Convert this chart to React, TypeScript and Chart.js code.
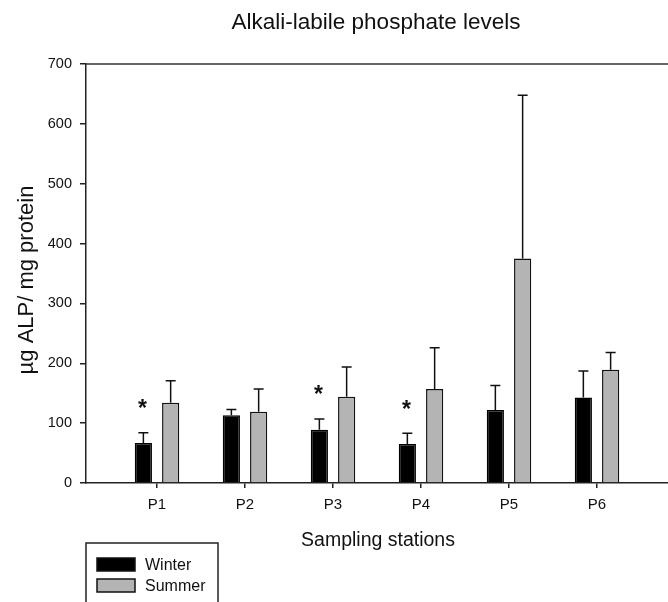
import React, { useEffect, useRef } from "react";
import { Chart, registerables } from "chart.js";

Chart.register(...registerables);

const categories = ["P1", "P2", "P3", "P4", "P5", "P6"];
const winterValues = [67, 113, 89, 65, 122, 143];
const winterErrors = [17, 10, 18, 18, 41, 44];
const summerValues = [134, 119, 144, 157, 375, 189];
const summerErrors = [37, 38, 50, 69, 273, 29];
const winterSignificant = [true, false, true, true, false, false];
const yTicks = [0, 100, 200, 300, 400, 500, 600, 700];

const FONT = "'Liberation Sans', Arial, sans-serif";

const annotationPlugin = {
  id: "customAnnotations",
  afterDatasetsDraw(chart: any) {
    const ctx = chart.ctx;
    const y = chart.scales.y;
    const area = chart.chartArea;
    ctx.save();
    // top frame line
    ctx.strokeStyle = "#333";
    ctx.lineWidth = 1.5;
    ctx.beginPath();
    ctx.moveTo(area.left, area.top);
    ctx.lineTo(area.right, area.top);
    ctx.stroke();

    // error bars (upper only)
    const errs = [winterErrors, summerErrors];
    chart.data.datasets.forEach((ds: any, di: number) => {
      const meta = chart.getDatasetMeta(di);
      meta.data.forEach((bar: any, i: number) => {
        const v = ds.data[i].y;
        const top = y.getPixelForValue(v + errs[di][i]);
        const start = y.getPixelForValue(v);
        ctx.strokeStyle = "#111";
        ctx.lineWidth = 1.5;
        ctx.beginPath();
        ctx.moveTo(bar.x, start);
        ctx.lineTo(bar.x, top);
        ctx.moveTo(bar.x - 5, top);
        ctx.lineTo(bar.x + 5, top);
        ctx.stroke();
        if (di === 0 && winterSignificant[i]) {
          ctx.fillStyle = "#111";
          ctx.font = `bold 23px ${FONT}`;
          ctx.textAlign = "center";
          ctx.textBaseline = "middle";
          ctx.fillText("*", bar.x - 1, top - 23);
        }
      });
    });

    // titles
    ctx.fillStyle = "#111";
    ctx.textAlign = "center";
    ctx.textBaseline = "middle";
    ctx.font = `22.5px ${FONT}`;
    ctx.fillText("Alkali-labile phosphate levels", 376, 23);
    ctx.font = `19.5px ${FONT}`;
    ctx.fillText("Sampling stations", 378, 541);
    ctx.save();
    ctx.translate(27, 280);
    ctx.rotate(-Math.PI / 2);
    ctx.font = `22px ${FONT}`;
    ctx.fillText("\u00b5g ALP/ mg protein", 0, 0);
    ctx.restore();

    // legend
    ctx.strokeStyle = "#222";
    ctx.lineWidth = 1.5;
    ctx.strokeRect(86, 543, 132, 70);
    chart.data.datasets.forEach((ds: any, di: number) => {
      const sy = 558 + di * 21;
      ctx.fillStyle = ds.backgroundColor;
      ctx.fillRect(97, sy, 38, 13);
      ctx.strokeStyle = "#111";
      ctx.lineWidth = 1.5;
      ctx.strokeRect(97, sy, 38, 13);
      ctx.fillStyle = "#111";
      ctx.textAlign = "left";
      ctx.font = `16px ${FONT}`;
      ctx.fillText(ds.label, 145, sy + 7.5);
    });
    ctx.restore();
  },
};

export default function App() {
  const canvasRef = useRef<HTMLCanvasElement | null>(null);

  useEffect(() => {
    const canvas = canvasRef.current;
    if (!canvas) return;
    const chart = new Chart(canvas, {
      type: "bar",
      data: {
        datasets: [
          {
            label: "Winter",
            data: winterValues.map((v, i) => ({ x: i, y: v })),
            backgroundColor: "#000000",
            borderColor: "#000000",
            borderWidth: 1.5,
            categoryPercentage: 0.62,
            barPercentage: 0.63,
          },
          {
            label: "Summer",
            data: summerValues.map((v, i) => ({ x: i, y: v })),
            backgroundColor: "#b4b4b4",
            borderColor: "#111111",
            borderWidth: 1.5,
            categoryPercentage: 0.62,
            barPercentage: 0.63,
          },
        ],
      },
      options: {
        animation: false,
        responsive: false,
        maintainAspectRatio: false,
        layout: { padding: { top: 64, left: 0, right: 0, bottom: 0 } },
        plugins: {
          legend: { display: false },
          title: { display: false },
          tooltip: { enabled: false },
        },
        scales: {
          x: {
            type: "linear",
            min: -0.807,
            max: 5.807,
            offset: false,
            afterBuildTicks: (s: any) => {
              s.ticks = categories.map((_, i) => ({ value: i }));
            },
            afterFit: (s: any) => {
              s.height = 119;
            },
            grid: {
              offset: false,
              drawOnChartArea: false,
              drawTicks: true,
              tickLength: 5,
              color: "#222",
              lineWidth: 1.5,
            },
            border: { color: "#222", width: 1.5 },
            ticks: {
              padding: 8,
              color: "#111",
              font: { family: FONT, size: 15 },
              callback: (v: any) => categories[Math.round(Number(v))] ?? "",
            },
          },
          y: {
            min: 0,
            max: 700,
            afterBuildTicks: (s: any) => {
              s.ticks = yTicks.map((v) => ({ value: v }));
            },
            afterFit: (s: any) => {
              s.width = 86;
            },
            grid: {
              drawOnChartArea: false,
              drawTicks: true,
              tickLength: 6,
              color: "#222",
              lineWidth: 1.5,
            },
            border: { color: "#222", width: 1.5 },
            ticks: {
              padding: 8,
              color: "#111",
              font: { family: FONT, size: 14.5 },
            },
          },
        },
      },
      plugins: [annotationPlugin],
    });
    return () => chart.destroy();
  }, []);

  return (
    <div style={{ position: "fixed", left: 0, top: 0, width: 668, height: 602, background: "#fff" }}>
      <canvas ref={canvasRef} width={668} height={602} />
    </div>
  );
}
